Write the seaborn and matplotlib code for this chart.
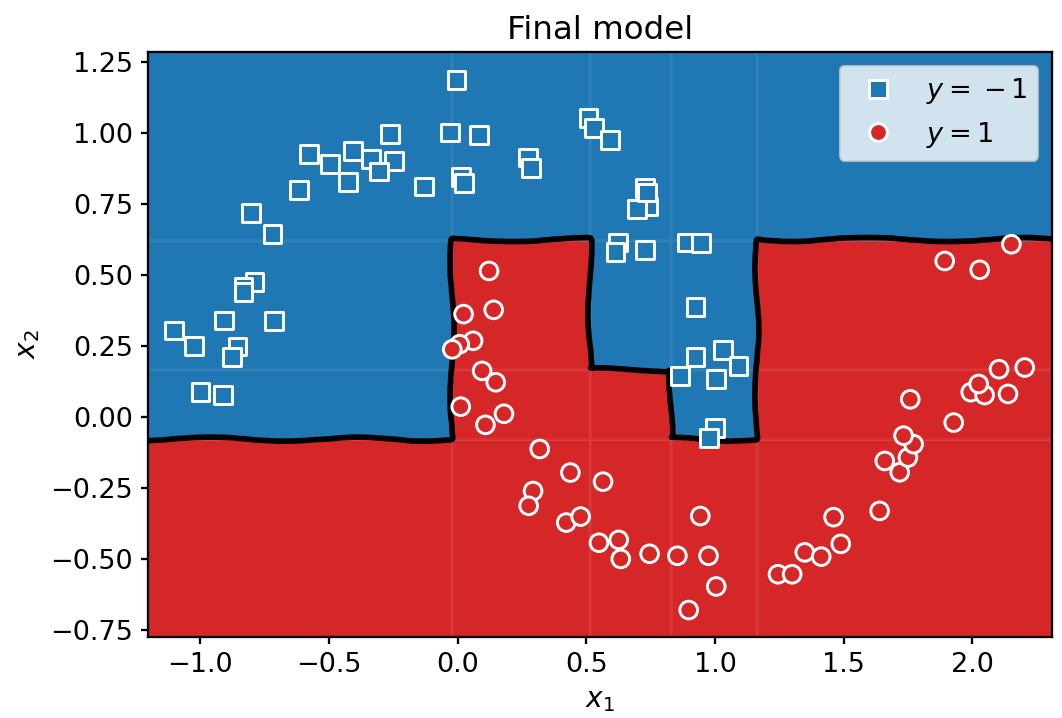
import numpy as np
import pandas as pd
import matplotlib
matplotlib.use("Agg")
import matplotlib.pyplot as plt
from matplotlib.colors import ListedColormap
import seaborn as sns

# ---- data ----
neg_x1 = [-0.005, -0.264, -0.031, -0.578, -0.497, -0.407, -0.336, -0.248, -0.306, -0.426,
          -0.617, -0.132, 0.012, 0.025, -0.802, -0.720, -0.789, -0.832, -0.832, -0.908,
          -0.714, -1.103, -1.026, -0.856, -0.877, -0.999, -0.912, 0.082, 0.273, 0.284,
          0.509, 0.529, 0.591, 0.729, 0.740, 0.698, 0.735, 0.623, 0.614, 0.727,
          0.889, 0.947, 0.925, 1.031, 1.092, 0.924, 0.865, 1.003, 0.999, 0.977]
neg_x2 = [1.187, 0.995, 1.001, 0.925, 0.890, 0.937, 0.907, 0.901, 0.864, 0.826,
          0.799, 0.811, 0.844, 0.823, 0.717, 0.643, 0.474, 0.457, 0.441, 0.339,
          0.338, 0.304, 0.249, 0.248, 0.212, 0.087, 0.077, 0.993, 0.913, 0.876,
          1.052, 1.017, 0.975, 0.805, 0.741, 0.731, 0.790, 0.614, 0.580, 0.588,
          0.614, 0.612, 0.388, 0.236, 0.180, 0.210, 0.144, 0.134, -0.038, -0.075]
pos_x1 = [0.122, 0.023, 0.140, 0.060, 0.008, -0.021, 0.095, 0.148, 0.012, 0.180,
          0.108, 0.319, 0.438, 0.565, 0.293, 0.276, 0.422, 0.478, 0.549, 0.626,
          0.634, 0.746, 0.854, 0.943, 0.975, 1.005, 0.898, 1.245, 1.300, 1.349,
          1.413, 1.489, 1.461, 1.640, 1.660, 1.718, 1.750, 1.772, 1.733, 1.759,
          1.928, 1.994, 2.048, 2.139, 2.152, 1.893, 2.029, 2.104, 2.204, 2.025]
pos_x2 = [0.514, 0.362, 0.377, 0.268, 0.256, 0.238, 0.162, 0.122, 0.036, 0.011,
          -0.028, -0.113, -0.196, -0.228, -0.261, -0.313, -0.372, -0.351, -0.443, -0.433,
          -0.500, -0.482, -0.489, -0.349, -0.489, -0.597, -0.680, -0.554, -0.554, -0.477,
          -0.492, -0.447, -0.353, -0.331, -0.155, -0.195, -0.143, -0.096, -0.066, 0.062,
          -0.020, 0.087, 0.077, 0.081, 0.608, 0.549, 0.518, 0.168, 0.174, 0.116]

# final model decision regions (cells between split thresholds)
x1_edges = [-1.25, -0.023, 0.513, 0.830, 1.162, 2.35]
x2_edges = [-0.80, -0.078, 0.167, 0.623, 1.30]
region_labels = [[1, 1, 1, 1, 1],
                 [-1, 1, 1, -1, 1],
                 [-1, 1, -1, -1, 1],
                 [-1, -1, -1, -1, -1]]

labels = [r"$y = \;{-}\,1$", r"$y = 1$"]

# ---- figure ----
sns.set_style("ticks")
plt.rcParams.update({"font.family": ["DejaVu Sans"], "font.size": 13,
                     "axes.titlesize": 15.6, "axes.labelsize": 13.5,
                     "xtick.labelsize": 13, "ytick.labelsize": 13,
                     "axes.edgecolor": "black", "xtick.color": "black",
                     "ytick.color": "black", "text.color": "black",
                     "axes.labelcolor": "black", "axes.linewidth": 1.1,
                     "xtick.major.width": 1.1, "ytick.major.width": 1.1,
                     "xtick.major.size": 3.5, "ytick.major.size": 3.5})

blue = "#1f77b4"
red = "#d62728"

fig, ax = plt.subplots(figsize=(7.08, 4.7867), dpi=150)
fig.subplots_adjust(left=0.139, right=0.9906, top=0.9276, bottom=0.1128)

Z = np.array(region_labels)
ax.pcolormesh(x1_edges, x2_edges, Z, cmap=ListedColormap([blue, red]),
              vmin=-1, vmax=1, edgecolors=(1, 1, 1, 0.06), linewidth=0.6,
              shading="flat", zorder=0)

# decision boundary from the same model on a fine grid
gx = np.linspace(x1_edges[0], x1_edges[-1], 700)
gy = np.linspace(x2_edges[0], x2_edges[-1], 500)
GX, GY = np.meshgrid(gx, gy)
ix = np.clip(np.searchsorted(x1_edges, GX) - 1, 0, len(x1_edges) - 2)
iy = np.clip(np.searchsorted(x2_edges, GY) - 1, 0, len(x2_edges) - 2)
GZ = Z[iy, ix].astype(float)
with plt.rc_context({"path.sketch": (2.0, 140, 3)}):
    cs = ax.contour(GX, GY, GZ, levels=[0], colors="black", linewidths=2.7, zorder=1)

df = pd.DataFrame({
    "x1": neg_x1 + pos_x1,
    "x2": neg_x2 + pos_x2,
    "label": [labels[0]] * len(neg_x1) + [labels[1]] * len(pos_x1),
})
sns.scatterplot(data=df, x="x1", y="x2", hue="label", style="label",
                hue_order=labels, style_order=labels,
                palette={labels[0]: blue, labels[1]: red},
                markers={labels[0]: "s", labels[1]: "o"},
                s=72, edgecolor="white", linewidth=1.4, ax=ax, zorder=2)

ax.set_xlim(-1.205, 2.31)
ax.set_ylim(-0.775, 1.285)
ax.set_yticks(np.arange(-0.75, 1.26, 0.25))
ax.set_title("Final model")
ax.set_xlabel("$x_1$")
ax.set_ylabel("$x_2$")

leg = ax.legend(loc="upper right", fontsize=13, frameon=True, framealpha=0.8,
                borderpad=0.4, handletextpad=0.8)
for h in leg.legend_handles:
    if hasattr(h, "set_markeredgecolor"):
        h.set_markeredgecolor("white")
        h.set_markeredgewidth(1.4)
    elif hasattr(h, "set_edgecolor"):
        h.set_edgecolor("white")

fig.savefig("out.png", dpi=150)
